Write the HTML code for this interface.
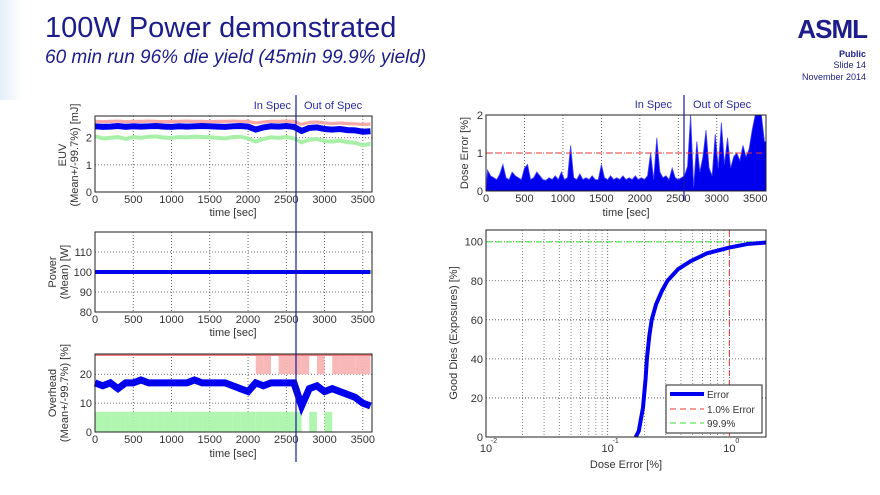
<!DOCTYPE html>
<html><head><meta charset="utf-8">
<style>
html,body{margin:0;padding:0;background:#fff;}
body{width:880px;height:495px;overflow:hidden;position:relative;font-family:"Liberation Sans",sans-serif;}
#deco{position:absolute;left:0;top:0;width:22px;height:100px;background:linear-gradient(90deg,#d8e6f3,#ffffff);opacity:.7}
.t{position:absolute;color:#1c1c8a;white-space:nowrap}
</style></head>
<body>
<div id="deco"></div>
<div class="t" style="left:45px;top:12px;font-size:29px;">100W Power demonstrated</div>
<div class="t" style="left:45px;top:47px;font-size:19px;font-style:italic;">60 min run 96% die yield (45min 99.9% yield)</div>
<div class="t" style="right:13px;top:14px;font-size:26px;font-weight:bold;letter-spacing:-1px;">ASML</div>
<div class="t" style="right:14px;top:49px;font-size:9px;font-weight:bold;">Public</div>
<div class="t" style="right:14px;top:60px;font-size:9px;">Slide 14</div>
<div class="t" style="right:14px;top:72px;font-size:9px;">November 2014</div>
<svg id="svg" width="880" height="495" style="position:absolute;left:0;top:0"></svg>
<script>
const timeS=[0,100,200,300,400,500,600,700,800,900,1000,1100,1200,1300,1400,1500,1600,1700,1800,1900,2000,2100,2200,2300,2400,2500,2600,2700,2800,2900,3000,3100,3200,3300,3400,3500,3600];
const euvMean=[2.42,2.40,2.41,2.43,2.40,2.42,2.41,2.42,2.43,2.41,2.40,2.42,2.41,2.42,2.43,2.42,2.41,2.40,2.42,2.43,2.41,2.30,2.38,2.42,2.41,2.43,2.40,2.25,2.36,2.38,2.32,2.30,2.32,2.28,2.27,2.22,2.24];
const euvUpper=[2.66,2.65,2.66,2.67,2.65,2.66,2.66,2.67,2.66,2.65,2.66,2.66,2.67,2.66,2.66,2.65,2.66,2.66,2.67,2.66,2.66,2.60,2.64,2.66,2.66,2.67,2.66,2.55,2.62,2.64,2.60,2.58,2.60,2.58,2.57,2.55,2.56];
const euvLower=[1.98,1.90,1.92,1.95,1.88,1.95,1.92,1.96,1.97,1.93,1.92,1.95,1.94,1.96,1.95,1.94,1.92,1.90,1.95,1.96,1.90,1.78,1.88,1.94,1.92,1.95,1.90,1.75,1.85,1.88,1.80,1.78,1.82,1.76,1.74,1.65,1.70];
const powerW=[100,100,100,100,100,100,100,100,100,100,100,100,100,100,100,100,100,100,100,100,100,100,100,100,100,100,100,100,100,100,100,100,100,100,100,100,100];
const ohMean=[17,16,17,15,17,17,18,17,17,17,17,17,17,18,17,17,17,17,16,15,14,17,16,17,17,17,17,9,15,16,14,15,14,13,12,10,9];
const ohGreenTop=[7,7,7,7,7,7,7,7,7,7,7,7,7,7,7,7,7,7,7,7,7,7,7,7,7,7,7,0,7,0,7,0,0,0,0,0,0];
const ohRedBottom=[27,27,27,27,27,27,27,27,27,27,27,27,27,27,27,27,27,27,27,27,27,20,20,27,20,20,20,20,27,20,27,20,20,20,20,20,27];
const doseT=[];for(let i=0;i<=90;i++)doseT.push(i*40);
const doseErr=[0.55,0.4,0.35,0.3,0.45,0.7,0.35,0.3,0.5,0.4,0.35,0.3,0.6,0.7,0.3,0.35,0.5,0.4,0.3,0.28,0.35,0.3,0.4,0.3,0.5,0.3,0.35,1.2,0.35,0.3,0.45,0.3,0.35,0.3,0.4,0.3,0.3,0.7,0.35,0.3,0.4,0.3,0.35,0.3,0.4,0.3,0.35,0.3,0.4,0.3,0.35,0.3,0.4,1.0,0.3,1.4,0.5,0.35,0.4,0.3,0.6,0.35,0.3,0.35,0.4,0.65,2.0,0.1,1.3,0.5,0.9,1.6,0.6,0.4,1.5,0.6,1.8,0.7,1.4,0.6,0.9,1.0,0.8,1.2,0.9,1.1,1.6,2.0,2.0,2.0,1.3];
const cdfX=[0.17,0.18,0.195,0.205,0.21,0.22,0.23,0.25,0.28,0.31,0.38,0.48,0.65,1.0,1.4,2.0];
const cdfY=[0,3,15,30,40,52,60,68,75,80,86,90,94,97,98.8,99.6];
const xTicks=[0,500,1000,1500,2000,2500,3000,3500];

const svg=document.getElementById('svg');
const NS='http://www.w3.org/2000/svg';
function el(tag,attrs,parent){const e=document.createElementNS(NS,tag);for(const k in attrs)e.setAttribute(k,attrs[k]);(parent||svg).appendChild(e);return e;}
function txt(x,y,s,size,anchor,parent,rot){const t=el('text',{x:x,y:y,'font-size':size,'text-anchor':anchor||'middle',fill:'#333','font-family':'Liberation Sans, sans-serif'},parent);if(rot)t.setAttribute('transform','rotate(-90 '+x+' '+y+')');t.textContent=s;return t;}
function axes(name,x0,x1,y0,y1,xmin,xmax,ymin,ymax,yt,xt,logx){
 const g=el('g',{});
 
 
 const sx=logx?(v=>x0+(Math.log10(v)-Math.log10(xmin))/(Math.log10(xmax)-Math.log10(xmin))*(x1-x0)):(v=>x0+(v-xmin)/(xmax-xmin)*(x1-x0));
 const sy=v=>y1-(v-ymin)/(ymax-ymin)*(y1-y0);
 el('rect',{x:x0,y:y0,width:x1-x0,height:y1-y0,fill:'#fff'},g);
 return {g,sx,sy,x0,x1,y0,y1,yt,xt};
}
function frame(a,xlabels,ylabels,minor){
 const g=a.g;
 (minor||[]).forEach(v=>el('line',{x1:a.sx(v),x2:a.sx(v),y1:a.y0,y2:a.y1,stroke:'#555','stroke-dasharray':'1,2','stroke-width':0.7},g));
 a.xt.forEach(v=>el('line',{x1:a.sx(v),x2:a.sx(v),y1:a.y0,y2:a.y1,stroke:'#444','stroke-dasharray':'1,2','stroke-width':0.8},g));
 a.yt.forEach(v=>el('line',{x1:a.x0,x2:a.x1,y1:a.sy(v),y2:a.sy(v),stroke:'#444','stroke-dasharray':'1,2','stroke-width':0.8},g));
}
function border(a,xlabels){
 const g=a.g;
 el('rect',{x:a.x0,y:a.y0,width:a.x1-a.x0,height:a.y1-a.y0,fill:'none',stroke:'#222','stroke-width':1},g);
 if(xlabels!==false)a.xt.forEach(v=>txt(a.sx(v),a.y1+11,String(v),11,'middle',g));
 a.yt.forEach(v=>txt(a.x0-3,a.sy(v)+4,String(v),11,'end',g));
}
// Plot 1 EUV
const a1=axes('euv-chart',95,372,116,192,0,3620,0,2.8,[0,1,2],xTicks);
frame(a1);
function bandPath(a,xs,lo,hi){let d='M'+xs.map((t,i)=>a.sx(t)+','+a.sy(hi[i])).join('L');for(let i=xs.length-1;i>=0;i--)d+='L'+a.sx(xs[i])+','+a.sy(lo[i]);return d+'Z';}
let p=el('path',{d:bandPath(a1,timeS,euvUpper.map(v=>v-0.12),euvUpper),fill:'#f6a8a8'},a1.g);

p=el('path',{d:bandPath(a1,timeS,euvLower,euvLower.map(v=>v+0.15)),fill:'#a8f0a8'},a1.g);

p=el('polyline',{points:timeS.map((t,i)=>a1.sx(t)+','+a1.sy(euvMean[i])).join(' '),fill:'none',stroke:'#0000ee','stroke-width':6},a1.g);

border(a1);
txt(233,216,'time [sec]',11,'middle',a1.g);
txt(66,155,'EUV',11,'middle',a1.g,true);txt(78,155,'(Mean+/-99.7%) [mJ]',11,'middle',a1.g,true);
// Plot 2 power
const a2=axes('power-chart',95,372,232,312,0,3620,80,120,[80,90,100,110],xTicks);
frame(a2);
p=el('polyline',{points:timeS.map((t,i)=>a2.sx(t)+','+a2.sy(powerW[i])).join(' '),fill:'none',stroke:'#0000ee','stroke-width':4},a2.g);

border(a2);
txt(233,336,'time [sec]',11,'middle',a2.g);
txt(56,272,'Power',11,'middle',a2.g,true);txt(68,272,'(Mean) [W]',11,'middle',a2.g,true);
// Plot 3 overhead
const a3=axes('overhead-chart',95,372,354,432,0,3620,0,27,[0,10,20],xTicks);
frame(a3);
timeS.forEach((t,i)=>{if(i==timeS.length-1)return;const w=a3.sx(timeS[i+1])-a3.sx(t);
 if(ohGreenTop[i]>0){const r=el('rect',{x:a3.sx(t),y:a3.sy(ohGreenTop[i]),width:w,height:a3.sy(0)-a3.sy(ohGreenTop[i]),fill:'#b0f5b0'},a3.g);}
 if(ohRedBottom[i]<27){const r=el('rect',{x:a3.sx(t),y:a3.sy(27),width:w,height:a3.sy(ohRedBottom[i])-a3.sy(27),fill:'#f8b8b8'},a3.g);}
});
el('line',{x1:95,x2:372,y1:a3.sy(27)+1,y2:a3.sy(27)+1,stroke:'#f08080','stroke-width':2},a3.g);
p=el('polyline',{points:timeS.map((t,i)=>a3.sx(t)+','+a3.sy(ohMean[i])).join(' '),fill:'none',stroke:'#0000ee','stroke-width':7},a3.g);

border(a3);
txt(233,457,'time [sec]',11,'middle',a3.g);
txt(56,393,'Overhead',11,'middle',a3.g,true);txt(68,393,'(Mean+/-99.7%) [%]',11,'middle',a3.g,true);
// spec line left
let l=el('line',{x1:296,x2:296,y1:95,y2:462,stroke:'#1a1a99','stroke-width':1.2});

let s=txt(291,109,'In Spec',11,'end');s.setAttribute('fill','#2a2aa0');
s=txt(304,109,'Out of Spec',11,'start');s.setAttribute('fill','#2a2aa0');
// Plot 4 dose error
const a4=axes('dose-error-chart',486,766,115,191,0,3640,0,2,[0,1,2],xTicks);
frame(a4);
let d='M'+a4.sx(0)+','+a4.sy(0);doseT.forEach((t,i)=>{d+='L'+a4.sx(t+20)+','+a4.sy(doseErr[i]);});d+='L'+a4.sx(3640)+','+a4.sy(doseErr[90])+'L'+a4.sx(3640)+','+a4.sy(0)+'Z';
p=el('path',{d:d,fill:'#0000ee',stroke:'#4444ff','stroke-width':0.8},a4.g);

l=el('line',{x1:486,x2:766,y1:a4.sy(1),y2:a4.sy(1),stroke:'#ee3333','stroke-dasharray':'6,4','stroke-width':1},a4.g);

border(a4);
txt(626,216,'time [sec]',11,'middle',a4.g);
txt(468,153,'Dose Error [%]',11,'middle',a4.g,true);
l=el('line',{x1:684,x2:684,y1:95,y2:201,stroke:'#1a1a99','stroke-width':1.2});

s=txt(672,108,'In Spec',11,'end');s.setAttribute('fill','#2a2aa0');
s=txt(693,108,'Out of Spec',11,'start');s.setAttribute('fill','#2a2aa0');
// Plot 5 CDF
const a5=axes('good-dies-chart',486,766,230,437,0.01,2,0,106,[0,20,40,60,80,100],[0.01,0.1,1],true);
const minor=[0.02,0.03,0.04,0.05,0.06,0.07,0.08,0.09,0.2,0.3,0.4,0.5,0.6,0.7,0.8,0.9];
frame(a5,null,null,minor);
l=el('line',{x1:486,x2:766,y1:a5.sy(99.9),y2:a5.sy(99.9),stroke:'#33dd33','stroke-dasharray':'6,4','stroke-width':1},a5.g);

l=el('line',{x1:a5.sx(1),x2:a5.sx(1),y1:230,y2:437,stroke:'#ee3333','stroke-dasharray':'6,4','stroke-width':1},a5.g);

p=el('polyline',{points:cdfX.map((x,i)=>a5.sx(x)+','+a5.sy(cdfY[i])).join(' '),fill:'none',stroke:'#0000ee','stroke-width':4},a5.g);

el('rect',{x:486,y:230,width:280,height:207,fill:'none',stroke:'#222'},a5.g);
[0,20,40,60,80,100].forEach(v=>txt(483,a5.sy(v)+4,String(v),11,'end',a5.g));
[[0.01,'-2'],[0.1,'-1'],[1,'0']].forEach(([v,e])=>{txt(a5.sx(v),452,'10',11,'middle',a5.g);txt(a5.sx(v)+8,443,e,7,'middle',a5.g);});
txt(626,468,'Dose Error [%]',11,'middle',a5.g);
txt(457,333,'Good Dies (Exposures) [%]',11,'middle',a5.g,true);
const lg=el('g',{});

el('rect',{x:666,y:385,width:96,height:48,fill:'#fff',stroke:'#222'},lg);
el('line',{x1:670,x2:704,y1:394,y2:394,stroke:'#0000ee','stroke-width':4},lg);txt(707,398,'Error',10,'start',lg);
el('line',{x1:670,x2:704,y1:409,y2:409,stroke:'#ee3333','stroke-dasharray':'6,4'},lg);txt(707,413,'1.0% Error',10,'start',lg);
el('line',{x1:670,x2:704,y1:423,y2:423,stroke:'#33dd33','stroke-dasharray':'6,4'},lg);txt(707,427,'99.9%',10,'start',lg);
</script>
</body></html>
